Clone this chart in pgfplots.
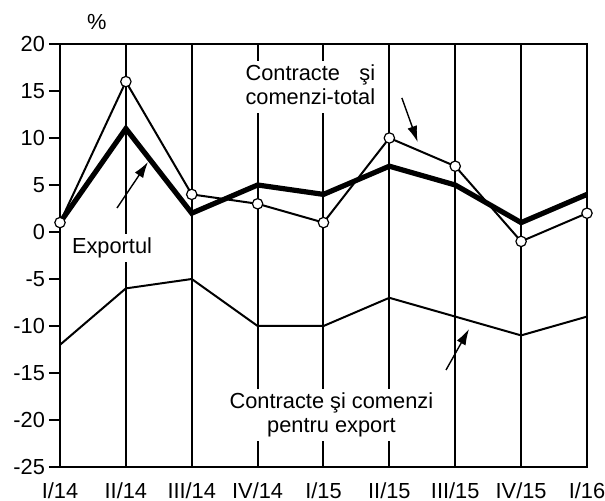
\documentclass[border=0pt]{standalone}
\usepackage{pgfplots}
\pgfplotsset{compat=1.18}
\usepackage{fontspec}
\setmainfont{Liberation Sans}
\usetikzlibrary{arrows.meta}
\begin{document}
\begin{tikzpicture}[font=\fontsize{10.9}{12}\selectfont]
\path[use as bounding box] (-30pt,-17pt) rectangle (272.5pt,233.5pt);
\begin{axis}[
  at={(0,0)}, anchor=south west,
  scale only axis, width=263.5pt, height=211.5pt,
  xmin=0, xmax=8, ymin=-25, ymax=20,
  xtick={0,...,8},
  xticklabels={I/14,II/14,III/14,IV/14,I/15,II/15,III/15,IV/15,I/16},
  xtick style={draw=none},
  tick label style={font=\fontsize{10.9}{12}\selectfont},
  xticklabel style={yshift=1pt},
  ytick={-25,-20,-15,-10,-5,0,5,10,15,20},
  yticklabels={-25,-20,-15,-10,-5,0,5,10,15,20},
  ytick pos=left, tick align=outside,
  major tick length=5.5pt,
  ytick style={line width=0.8pt, black},
  yticklabel style={xshift=1.5pt},
  xmajorgrids, grid style={line width=1pt, black},
  axis line style={line width=1pt},
  clip=false,
]
\addplot[black, line width=2.6pt, mark=none] coordinates {(0,1) (1,11) (2,2) (3,5) (4,4) (5,7) (6,5) (7,1) (8,4)};
\addplot[black, line width=1pt, mark=none] coordinates {(0,-12) (1,-6) (2,-5) (3,-10) (4,-10) (5,-7) (6,-9) (7,-11) (8,-9)};
\addplot[black, line width=1pt, mark=*, mark size=2.6pt, mark options={fill=white, line width=0.6pt}] coordinates {(0,1) (1,16) (2,4) (3,3) (4,1) (5,10) (6,7) (7,-1) (8,2)};
\node[anchor=west, fill=white, inner sep=1pt] at (axis cs:2.78,15.4) {\renewcommand{\arraystretch}{1.0}\begin{tabular}{@{}l@{}}Contracte\hfill şi\\comenzi-total\end{tabular}};
\node[fill=white, inner sep=2pt] at (axis cs:0.79,-1.7) {Exportul};
\node[fill=white, align=center, inner sep=2pt] at (axis cs:4.12,-19.5) {Contracte şi comenzi\\pentru export};
\node at (rel axis cs:0.07,1.052) {\%};
\draw[line width=0.7pt, -{Latex[length=8pt,width=5pt]}] (axis cs:0.865,2.55) -- (axis cs:1.336,7.45);
\draw[line width=0.7pt, -{Latex[length=8pt,width=5pt]}] (axis cs:5.19,14.26) -- (axis cs:5.43,9.57);
\draw[line width=0.7pt, -{Latex[length=8pt,width=5pt]}] (axis cs:5.86,-14.68) -- (axis cs:6.21,-10.32);
\end{axis}
\end{tikzpicture}
\end{document}
